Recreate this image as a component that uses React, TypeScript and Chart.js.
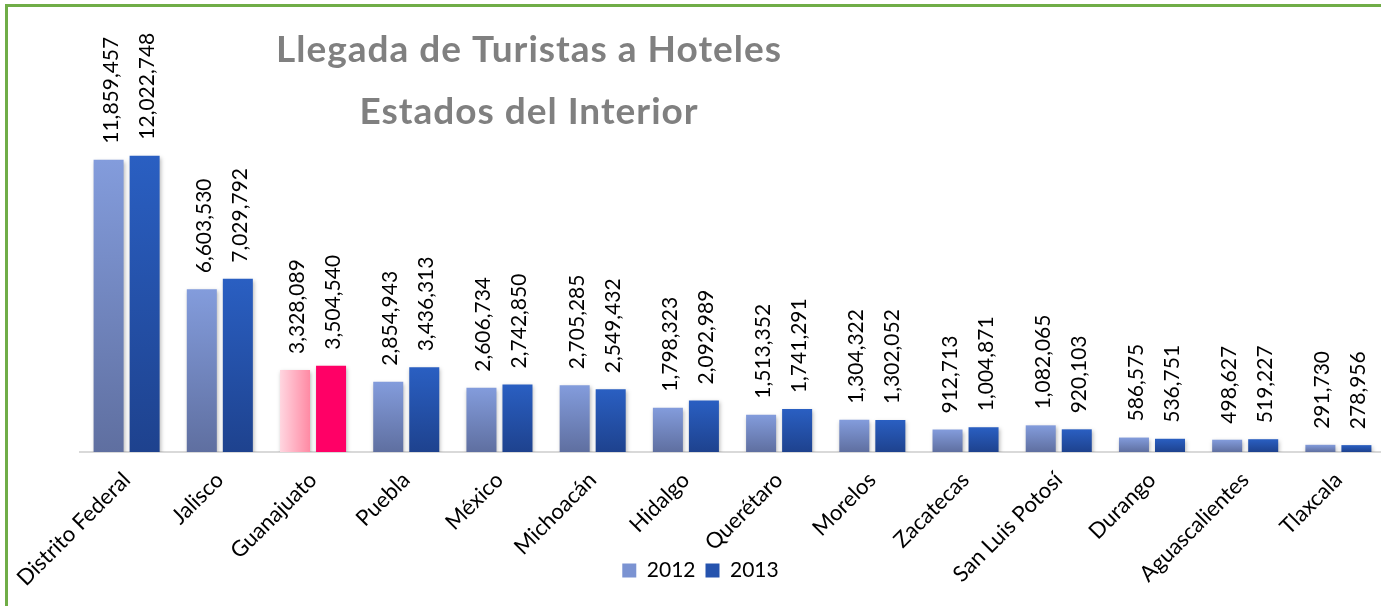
import { useEffect, useRef } from "react";
import { Chart, registerables } from "chart.js";

Chart.register(...registerables);

const categories = [
  "Distrito Federal",
  "Jalisco",
  "Guanajuato",
  "Puebla",
  "México",
  "Michoacán",
  "Hidalgo",
  "Querétaro",
  "Morelos",
  "Zacatecas",
  "San Luis Potosí",
  "Durango",
  "Aguascalientes",
  "Tlaxcala",
];
const values2012 = [
  11859457, 6603530, 3328089, 2854943, 2606734, 2705285, 1798323, 1513352,
  1304322, 912713, 1082065, 586575, 498627, 291730,
];
const values2013 = [
  12022748, 7029792, 3504540, 3436313, 2742850, 2549432, 2092989, 1741291,
  1302052, 1004871, 920103, 536751, 519227, 278956,
];
const seriesLabels = ["2012", "2013"];
const titleLines = ["Llegada de Turistas a Hoteles", "Estados del Interior"];
const highlightIndex = 2;

const CAT_PCT = 0.773;
const BAR_PCT = 0.833;
const FONT = "Lato";
const LEGEND_COLORS = ["#7B93D2", "#2553AE"];

function makeBg(dsIndex: number) {
  return (c: any) => {
    const chart = c.chart;
    if (c.type !== "data" || !chart.chartArea) {
      return LEGEND_COLORS[dsIndex];
    }
    const ctx = chart.ctx as CanvasRenderingContext2D;
    const xs = chart.scales.x;
    const ys = chart.scales.y;
    const i = c.dataIndex;
    if (i === highlightIndex) {
      if (dsIndex === 1) return "#FF0066";
      const catW = xs.width / categories.length;
      const slot = (catW * CAT_PCT) / 2;
      const cx = xs.getPixelForValue(i) - slot / 2;
      const half = (slot * BAR_PCT) / 2;
      const g = ctx.createLinearGradient(cx - half, 0, cx + half, 0);
      g.addColorStop(0, "#FFD6E0");
      g.addColorStop(1, "#FF8AA4");
      return g;
    }
    const top = ys.getPixelForValue(c.raw);
    const bottom = ys.getPixelForValue(0);
    const g = ctx.createLinearGradient(0, top, 0, bottom);
    if (dsIndex === 0) {
      g.addColorStop(0, "#839CDC");
      g.addColorStop(1, "#5F6FA0");
    } else {
      g.addColorStop(0, "#2A5FC2");
      g.addColorStop(1, "#1E428E");
    }
    return g;
  };
}

const layoutPlugin = {
  id: "extendXLabelArea",
  afterLayout(chart: any) {
    const xs = chart.scales.x;
    if (xs) xs.bottom = chart.height;
  },
};

const shadowPlugin = {
  id: "barShadow",
  beforeDatasetsDraw(chart: any) {
    const ctx = chart.ctx;
    ctx.save();
    ctx.shadowColor = "rgba(0,0,0,0.28)";
    ctx.shadowBlur = 4;
    ctx.shadowOffsetX = 1;
    ctx.shadowOffsetY = 2;
  },
  afterDatasetsDraw(chart: any) {
    chart.ctx.restore();
  },
};

const labelPlugin = {
  id: "valueLabels",
  afterDraw(chart: any) {
    const ctx = chart.ctx as CanvasRenderingContext2D;
    ctx.save();
    ctx.font = `21px ${FONT}`;
    ctx.fillStyle = "#000000";
    ctx.textAlign = "left";
    ctx.textBaseline = "alphabetic";
    chart.data.datasets.forEach((ds: any, di: number) => {
      const meta = chart.getDatasetMeta(di);
      meta.data.forEach((el: any, i: number) => {
        const v = ds.data[i] as number;
        ctx.save();
        ctx.translate(el.x + 9, el.y - 16);
        ctx.rotate(-Math.PI / 2);
        ctx.fillText(v.toLocaleString("en-US"), 0, 0);
        ctx.restore();
      });
    });
    // title
    ctx.font = `bold 37px ${FONT}`;
    (ctx as any).letterSpacing = "1px";
    ctx.fillStyle = "#808080";
    ctx.textAlign = "center";
    ctx.fillText(titleLines[0], 529, 62);
    ctx.fillText(titleLines[1], 529, 124);
    ctx.restore();
  },
};

export default function App() {
  const ref = useRef<HTMLCanvasElement>(null);
  useEffect(() => {
    if (!ref.current) return;
    const chart = new Chart(ref.current, {
      type: "bar",
      data: {
        labels: categories,
        datasets: [
          {
            label: seriesLabels[0],
            data: values2012,
            backgroundColor: makeBg(0),
            categoryPercentage: CAT_PCT,
            barPercentage: BAR_PCT,
          },
          {
            label: seriesLabels[1],
            data: values2013,
            backgroundColor: makeBg(1),
            categoryPercentage: CAT_PCT,
            barPercentage: BAR_PCT,
          },
        ],
      },
      options: {
        animation: false,
        responsive: false,
        devicePixelRatio: 1,
        layout: { padding: { left: 16, right: 0, top: 107, bottom: 15 } },
        plugins: {
          title: { display: false },
          tooltip: { enabled: false },
          legend: {
            position: "bottom",
            labels: {
              boxWidth: 14,
              boxHeight: 14,
              padding: 10,
              color: "#000000",
              font: { family: FONT, size: 21 },
              generateLabels: (chart: any) => {
                const items = Chart.defaults.plugins.legend.labels.generateLabels(chart);
                items.forEach((it: any, k: number) => {
                  it.fillStyle = LEGEND_COLORS[k];
                  it.strokeStyle = LEGEND_COLORS[k];
                  it.lineWidth = 0;
                });
                return items;
              },
            },
          },
        },
        scales: {
          x: {
            grid: { display: false },
            border: { display: true, color: "#D9D9D9", width: 2 },
            ticks: {
              autoSkip: false,
              maxRotation: 45,
              minRotation: 45,
              padding: 7,
              color: "#000000",
              font: { family: FONT, size: 22 },
            },
            afterFit: (s: any) => {
              s.height = 98;
            },
          },
          y: {
            display: true,
            min: 0,
            max: 14000000,
            grid: { display: false },
            border: { display: false },
            ticks: { display: false },
            afterFit: (s: any) => {
              s.width = 64;
            },
          },
        },
      },
      plugins: [layoutPlugin, shadowPlugin, labelPlugin],
    });
    return () => chart.destroy();
  }, []);

  return (
    <div
      style={{
        position: "fixed",
        left: 0,
        top: 0,
        width: 1381,
        height: 606,
        overflow: "hidden",
        background: "#ffffff",
      }}
    >
      <div
        style={{
          position: "absolute",
          left: 5,
          top: 4,
          width: 1500,
          height: 700,
          borderLeft: "3px solid #70AD47",
          borderTop: "3px solid #70AD47",
        }}
      />
      <canvas
        ref={ref}
        width={1385}
        height={606}
        style={{ position: "absolute", left: 0, top: 0, width: 1385, height: 606 }}
      />
    </div>
  );
}
